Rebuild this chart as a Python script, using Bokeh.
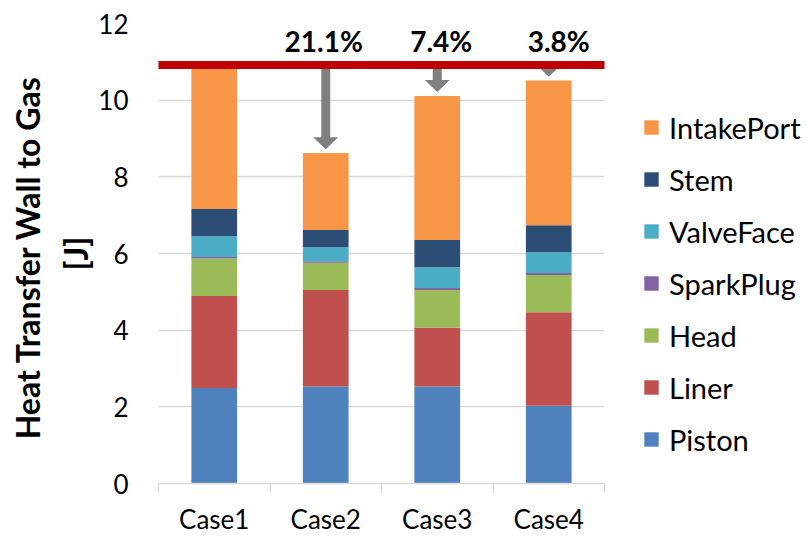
import numpy as np
from bokeh.plotting import figure
from bokeh.models import (ColumnDataSource, Range1d, FixedTicker, Legend, LegendItem,
                          Arrow)
from bokeh.embed import file_html
from bokeh.resources import INLINE
from bokeh.core.properties import value

# ---------------- data ----------------
cases = ["Case1", "Case2", "Case3", "Case4"]
components = ["Piston", "Liner", "Head", "SparkPlug", "ValveFace", "Stem", "IntakePort"]
piston = [2.49, 2.53, 2.53, 2.03]
liner = [2.40, 2.52, 1.54, 2.44]
head = [0.98, 0.71, 0.98, 0.97]
sparkplug = [0.04, 0.04, 0.05, 0.05]
valveface = [0.54, 0.36, 0.54, 0.54]
stem = [0.71, 0.45, 0.71, 0.71]
intakeport = [3.76, 2.01, 3.76, 3.77]
reduction_labels = ["", "21.1%", "7.4%", "3.8%"]

colors = ["#4F81BD", "#C0504D", "#9BBB59", "#8064A2", "#4BACC6", "#2C4D75", "#F79646"]

series = [piston, liner, head, sparkplug, valveface, stem, intakeport]
xpos = [i + 0.5 for i in range(len(cases))]
data = {"x": xpos}
for name, vals in zip(components, series):
    data[name] = vals
source = ColumnDataSource(data)
totals = [sum(v) for v in zip(*series)]
baseline = totals[0]

FONT = "Lato"

p = figure(frame_width=446, frame_height=460,
           x_range=Range1d(0, len(cases)), y_range=Range1d(0, 12),
           output_backend="svg", toolbar_location=None,
           min_border_left=158, min_border_right=205,
           min_border_top=23, min_border_bottom=52)
p.outline_line_color = None
p.background_fill_color = "white"
p.border_fill_color = "white"

renderers = p.vbar_stack(components, x="x", width=0.41, source=source,
                         fill_color=colors, line_color=None)

# ---------- arrows (computed from data) ----------
px_x = 446 / len(cases)
px_y = 460 / 12
head_hw = 12.5 / px_x
shaft_hw = 4.5 / px_x
head_len = 12 / px_y
gap = 0.1
axs, ays = [], []
for i in range(1, len(cases)):
    cx = xpos[i]
    tip = totals[i] + gap
    neck = tip + head_len
    axs.append([cx - shaft_hw, cx + shaft_hw, cx + shaft_hw, cx + head_hw, cx,
                cx - head_hw, cx - shaft_hw])
    ays.append([baseline, baseline, neck, neck, tip, neck, neck])
p.patches(axs, ays, fill_color="#808080", line_color=None)

# ---------- red baseline ----------
p.add_layout(Arrow(x_start=-0.105, y_start=baseline, x_end=len(cases) + 0.035, y_end=baseline,
                   end=None, start=None, line_color="#C00000", line_width=8))

# ---------- percentage labels ----------
lbl_src = ColumnDataSource(dict(x=xpos, text=reduction_labels, xo=[0, -2, 4, 10]))
p.text(x="x", y=11.55, text="text", x_offset="xo", source=lbl_src,
       text_align="center", text_baseline="middle",
       text_font=value(FONT), text_font_style="bold", text_font_size="28px",
       text_color="black")

# ---------- axes ----------
p.xgrid.grid_line_color = None
p.ygrid.grid_line_color = "#D9D9D9"
p.ygrid.grid_line_width = 1.5

p.yaxis.ticker = FixedTicker(ticks=list(range(0, 13, 2)))
p.yaxis.axis_line_color = None
p.yaxis.major_tick_line_color = None
p.yaxis.minor_tick_line_color = None
p.yaxis.major_tick_out = 0
p.yaxis.major_label_standoff = 30
p.yaxis.major_label_text_font = FONT
p.yaxis.major_label_text_font_size = "26px"
p.yaxis.major_label_text_color = "black"
p.yaxis.axis_label = "Heat Transfer  Wall to Gas\n[J]"
p.yaxis.axis_label_text_font = FONT
p.yaxis.axis_label_text_font_style = "bold"
p.yaxis.axis_label_text_font_size = "32px"
p.yaxis.axis_label_text_color = "black"
p.yaxis.axis_label_standoff = 0
p.yaxis.axis_label_text_line_height = 1.25

p.xaxis.ticker = FixedTicker(ticks=xpos, minor_ticks=list(range(len(cases) + 1)))
p.xaxis.major_label_overrides = {x: c for x, c in zip(xpos, cases)}
p.xaxis.axis_line_color = "#D9D9D9"
p.xaxis.axis_line_width = 1.5
p.xaxis.major_tick_line_color = None
p.xaxis.major_tick_out = 0
p.xaxis.major_tick_in = 0
p.xaxis.minor_tick_line_color = "#D9D9D9"
p.xaxis.minor_tick_line_width = 1.5
p.xaxis.minor_tick_out = 9
p.xaxis.minor_tick_in = 0
p.xaxis.major_label_standoff = 10
p.xaxis.major_label_text_font = FONT
p.xaxis.major_label_text_font_size = "26px"
p.xaxis.major_label_text_color = "black"

# ---------- legend ----------
items = [LegendItem(label=name, renderers=[r]) for name, r in zip(components, renderers)]
legend = Legend(items=items[::-1], location=(38, 26),
                padding=0, margin=0, border_line_color=None, background_fill_alpha=0,
                glyph_width=18, glyph_height=18, label_standoff=9,
                label_height=36, spacing=16,
                label_text_font=FONT, label_text_font_size="29px", label_text_color="black")
p.add_layout(legend, "right")

open("out.html", "w").write(file_html(p, INLINE))
